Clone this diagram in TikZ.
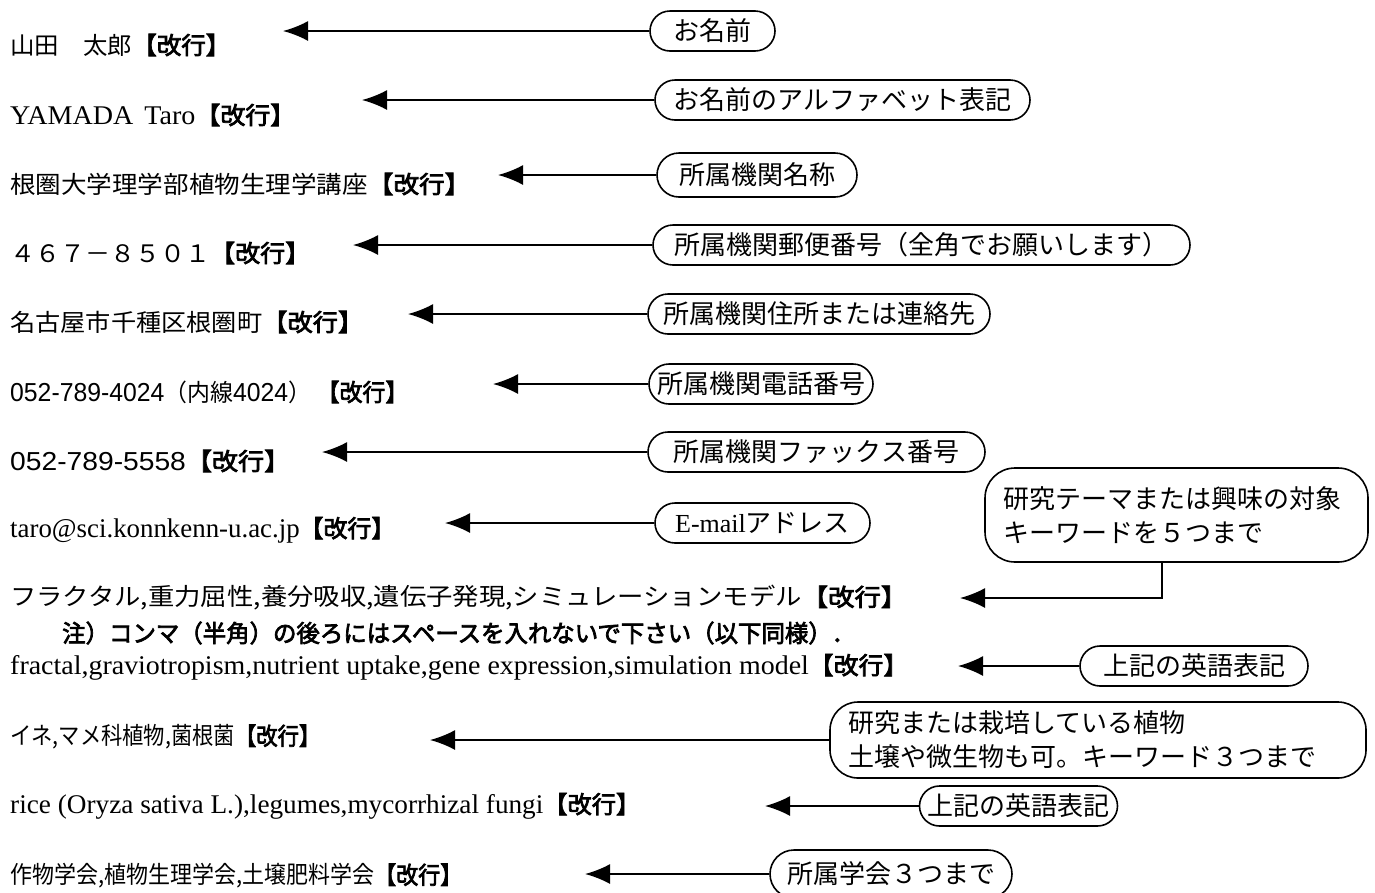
\documentclass[tikz,border=0pt]{standalone}
\usepackage{graphicx}
\usepackage{fontspec}
\setmainfont{Liberation Serif}
\newfontfamily\jp{Noto Sans CJK JP}
\newfontfamily\jpb{Noto Sans CJK JP}[FakeBold=3]
\newfontfamily\lsans{Liberation Sans}
\usetikzlibrary{arrows.meta}
\newlength\fitwd
\newcommand\fitto[2]{\settowidth\fitwd{#2}\pgfmathsetmacro\fitfac{#1/\fitwd}\scalebox{\fitfac}[1]{#2}}
\newcommand\KG{{\jpb\fontsize{24}{28}\selectfont 【改行】}}
\newcommand\lat{\fontsize{27}{30}\selectfont}
\newcommand\num{\lsans\fontsize{26}{30}\selectfont}
\begin{document}
\begin{tikzpicture}[x=1pt,y=-1pt,
  row/.style={anchor=west,inner sep=0pt,font=\fontsize{24}{28}\selectfont},
  callout/.style={draw,line width=1.6pt,rounded corners=20pt,minimum height=40pt,inner xsep=8pt,inner ysep=2pt,font=\jp\fontsize{26}{34}\selectfont},
  bigcallout/.style={callout,rounded corners=30pt,align=left,inner xsep=18pt},
  arr/.style={line width=1.8pt,-{Latex[length=25pt,width=20pt]}}]
\fill[white] (0,0) rectangle (1375,892);
\useasboundingbox (0,0) rectangle (1375,892);

% rows of text
\node[row] (r1) at (10,45) {\fitto{220pt}{\jp 山田　太郎\KG}};
\node[row] (r2) at (10,115) {\fitto{285pt}{{\lat YAMADA\hspace{4pt} Taro}\KG}};
\node[row] (r3) at (10,184) {\fitto{460pt}{\jp 根圏大学理学部植物生理学講座\KG}};
\node[row] (r4) at (10,253) {\fitto{300pt}{\jp ４６７－８５０１\KG}};
\node[row] (r5) at (10,322) {\fitto{353pt}{\jp 名古屋市千種区根圏町\KG}};
\node[row] (r6) at (10,392) {\fitto{398pt}{{\num 052-789-4024}{\jp （内線}{\num 4024}{\jp ）}\hspace{6pt}\KG}};
\node[row] (r7) at (10,461) {\fitto{280pt}{{\num 052-789-5558}\KG}};
\node[row] (r8) at (10,530) {\fitto{385pt}{{\lat taro@sci.konnkenn-u.ac.jp}\KG}};
\node[row] (r9) at (10,598) {\fitto{897pt}{\jp フラクタル,重力屈性,養分吸収,遺伝子発現,シミュレーションモデル\KG}};
\node[row] (r10) at (62,633) {\fitto{793pt}{\jpb 注）コンマ（半角）の後ろにはスペースを入れないで下さい（以下同様）．}};
\node[row] (r11) at (10,667) {\fitto{898pt}{{\lat fractal,graviotropism,nutrient uptake,gene expression,simulation model}\KG}};
\node[row] (r12) at (10,737) {\fitto{310pt}{\jp イネ,マメ科植物,菌根菌\KG}};
\node[row] (r13) at (10,806) {\fitto{630pt}{{\lat rice (Oryza sativa L.),legumes,mycorrhizal fungi}\KG}};
\node[row] (r14) at (10,876) {\fitto{452pt}{\jp 作物学会,植物生理学会,土壌肥料学会\KG}};

% callouts
\node[callout,minimum width=125pt] (c1) at (712.5,31) {お名前};
\node[callout,minimum width=375pt] (c2) at (842.5,100) {お名前のアルファベット表記};
\node[callout,minimum width=200pt,minimum height=44pt,rounded corners=22pt] (c3) at (757,175) {所属機関名称};
\node[callout,minimum width=537pt] (c4) at (921.5,245) {所属機関郵便番号（全角でお願いします）};
\node[callout,minimum width=342pt] (c5) at (819,314) {所属機関住所または連絡先};
\node[callout,minimum width=222pt] (c6) at (761,384) {所属機関電話番号};
\node[callout,minimum width=337pt] (c7) at (816.5,452) {所属機関ファックス番号};
\node[callout,minimum width=215pt] (c8) at (762.5,523) {{\rmfamily E-mail}アドレス};
\node[bigcallout,text width=347pt,minimum height=94pt] (c9) at (1176.5,515) {研究テーマまたは興味の対象\\キーワードを５つまで};
\node[callout,minimum width=228pt] (c10) at (1194,666) {上記の英語表記};
\node[bigcallout,text width=500pt,minimum height=76pt,rounded corners=28pt] (c11) at (1098,740) {研究または栽培している植物\\土壌や微生物も可。キーワード３つまで};
\node[callout,minimum width=193pt] (c12) at (1018.5,806) {上記の英語表記};
\node[callout,minimum width=242pt,minimum height=48pt,rounded corners=24pt] (c13) at (891,874) {所属学会３つまで};

% arrow tips
\coordinate (t1) at (283,31);
\coordinate (t2) at (362,100);
\coordinate (t3) at (498,175);
\coordinate (t4) at (353,245);
\coordinate (t5) at (408,314);
\coordinate (t6) at (493,384);
\coordinate (t7) at (322,452);
\coordinate (t8) at (445,523);
\coordinate (k9) at (1162,598);
\coordinate (t9) at (960,598);
\coordinate (t10) at (958,666);
\coordinate (t11) at (430,740);
\coordinate (t12) at (765,806);
\coordinate (t13) at (585,874);

\draw[arr] (c1.west) -- (t1);
\draw[arr] (c2.west) -- (t2);
\draw[arr] (c3.west) -- (t3);
\draw[arr] (c4.west) -- (t4);
\draw[arr] (c5.west) -- (t5);
\draw[arr] (c6.west) -- (t6);
\draw[arr] (c7.west) -- (t7);
\draw[arr] (c8.west) -- (t8);
\draw[arr] (c9.south -| k9) |- (t9);
\draw[arr] (c10.west) -- (t10);
\draw[arr] (c11.west) -- (t11);
\draw[arr] (c12.west) -- (t12);
\draw[arr] (c13.west) -- (t13);
\end{tikzpicture}
\end{document}
